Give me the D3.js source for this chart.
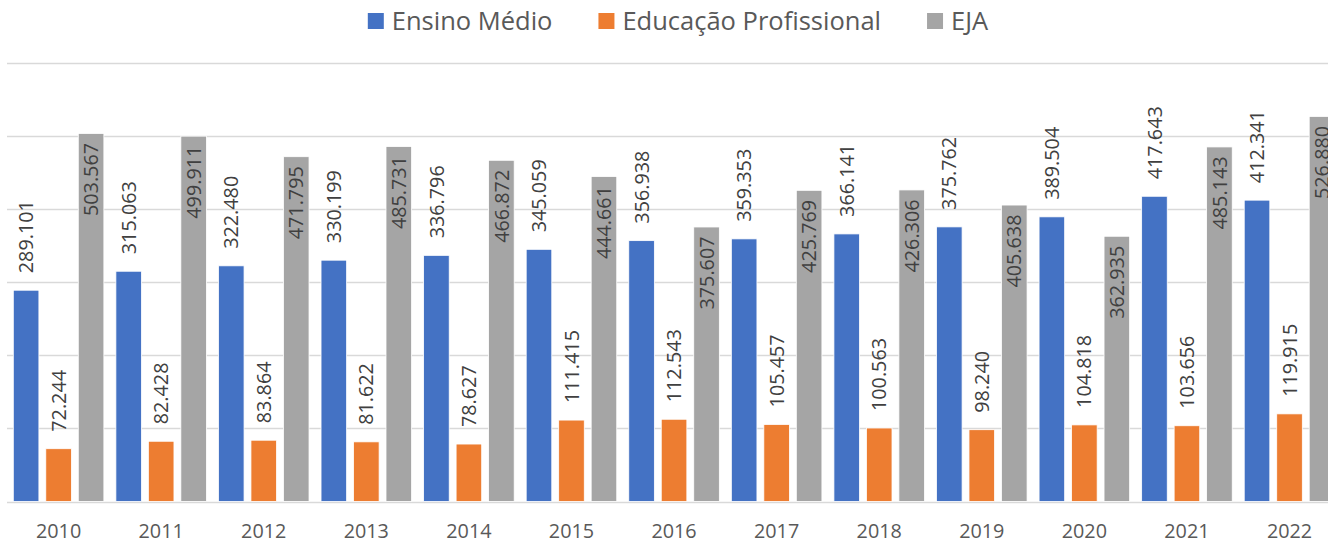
<!DOCTYPE html>
<html>
<head>
<meta charset="utf-8">
<script src="https://cdn.jsdelivr.net/npm/d3@7"></script>
<style>
  html, body { margin: 0; padding: 0; background: #fff; overflow: hidden; }
  svg { display: block; font-family: "Open Sans", "Noto Sans", sans-serif; }
</style>
</head>
<body>
<svg id="canvas" width="1328" height="541"></svg>
<script>
const years = ['2010', '2011', '2012', '2013', '2014', '2015', '2016', '2017', '2018', '2019', '2020', '2021', '2022'];
const seriesNames = ['Ensino Médio', 'Educação Profissional', 'EJA'];
const ensinoMedio = [289101, 315063, 322480, 330199, 336796, 345059, 356938, 359353, 366141, 375762, 389504, 417643, 412341];
const educacaoProfissional = [72244, 82428, 83864, 81622, 78627, 111415, 112543, 105457, 100563, 98240, 104818, 103656, 119915];
const eja = [503567, 499911, 471795, 485731, 466872, 444661, 375607, 425769, 426306, 405638, 362935, 485143, 526880];
const yTicks = [0, 100000, 200000, 300000, 400000, 500000, 600000];

const colors = ['#4472C4', '#ED7D31', '#A5A5A5'];
const seriesValues = [ensinoMedio, educacaoProfissional, eja];

const canvas = d3.select('#canvas');

// pt-BR number format: 289.101
const locale = d3.formatLocale({decimal: ',', thousands: '.', grouping: [3], currency: ['R$', '']});
const fmt = locale.format(',d');

// the plot runs past the right edge of the window, like the original
let x = d3.scaleBand()
    .domain(years)
    .range([7.3, 1340.8])
    .paddingInner(0.117)
    .paddingOuter(0.0585);

let xInner = d3.scaleBand()
    .domain(seriesNames)
    .range([0, x.bandwidth()])
    .paddingInner(0.212);

let y = d3.scaleLinear()
    .domain([0, 600000])
    .range([501.5, 63]);

// gridlines
canvas.append('g')
    .selectAll('line')
    .data(yTicks)
    .enter()
    .append('line')
    .attr('x1', 7)
    .attr('x2', 1328)
    .attr('y1', (d) => Math.round(y(d)) + 0.5)
    .attr('y2', (d) => Math.round(y(d)) + 0.5)
    .attr('stroke', '#D9D9D9')
    .attr('stroke-width', 1.3);

// table of bars built from the arrays
let rows = [];
years.forEach((year, i) => {
    seriesNames.forEach((name, s) => {
        rows.push({year: year, series: name, index: s, value: seriesValues[s][i]});
    });
});

let block = canvas.append('g')
    .selectAll('g')
    .data(rows)
    .enter()
    .append('g')
    .attr('transform', (d) => 'translate(' + (x(d.year) + xInner(d.series)) + ', 0)');

block.append('rect')
    .attr('x', 0)
    .attr('y', (d) => y(d.value))
    .attr('width', xInner.bandwidth())
    .attr('height', (d) => y(0) - y(d.value))
    .attr('fill', (d) => colors[d.index])
    .attr('stroke', '#ffffff')
    .attr('stroke-width', 0.8);

// labels: blue and orange above the bar, gray inside the top of the bar
block.append('text')
    .text((d) => fmt(d.value))
    .attr('transform', (d) => {
        let cx = xInner.bandwidth() / 2;
        let ty = d.index === 2 ? y(d.value) + 9.5 : y(d.value) - 17;
        return 'translate(' + cx + ',' + ty + ') rotate(-90)';
    })
    .attr('text-anchor', (d) => d.index === 2 ? 'end' : 'start')
    .attr('dy', '0.36em')
    .attr('font-size', '19.8px')
    .attr('fill', '#404040');

// x axis labels
canvas.append('g')
    .selectAll('text')
    .data(years)
    .enter()
    .append('text')
    .text((d) => d)
    .attr('x', (d) => x(d) + x.bandwidth() / 2)
    .attr('y', 538)
    .attr('text-anchor', 'middle')
    .attr('font-size', '19.8px')
    .attr('fill', '#595959');

// legend, centred at the top
let legend = canvas.append('g');
let items = legend.selectAll('g')
    .data(seriesNames)
    .enter()
    .append('g');

items.append('rect')
    .attr('x', 0)
    .attr('y', 13)
    .attr('width', 16)
    .attr('height', 16)
    .attr('fill', (d, i) => colors[i]);

items.append('text')
    .text((d) => d)
    .attr('x', 24)
    .attr('y', 29.5)
    .attr('font-size', '25.5px')
    .attr('fill', '#595959');

let offset = 0;
let widths = [];
items.each(function () {
    widths.push(24 + d3.select(this).select('text').node().getComputedTextLength());
});
let gap = 46;
let total = d3.sum(widths) + gap * (widths.length - 1);
let start = 678 - total / 2;
items.attr('transform', (d, i) => {
    let tx = start + offset;
    offset += widths[i] + gap;
    return 'translate(' + tx + ',0)';
});
</script>
</body>
</html>
